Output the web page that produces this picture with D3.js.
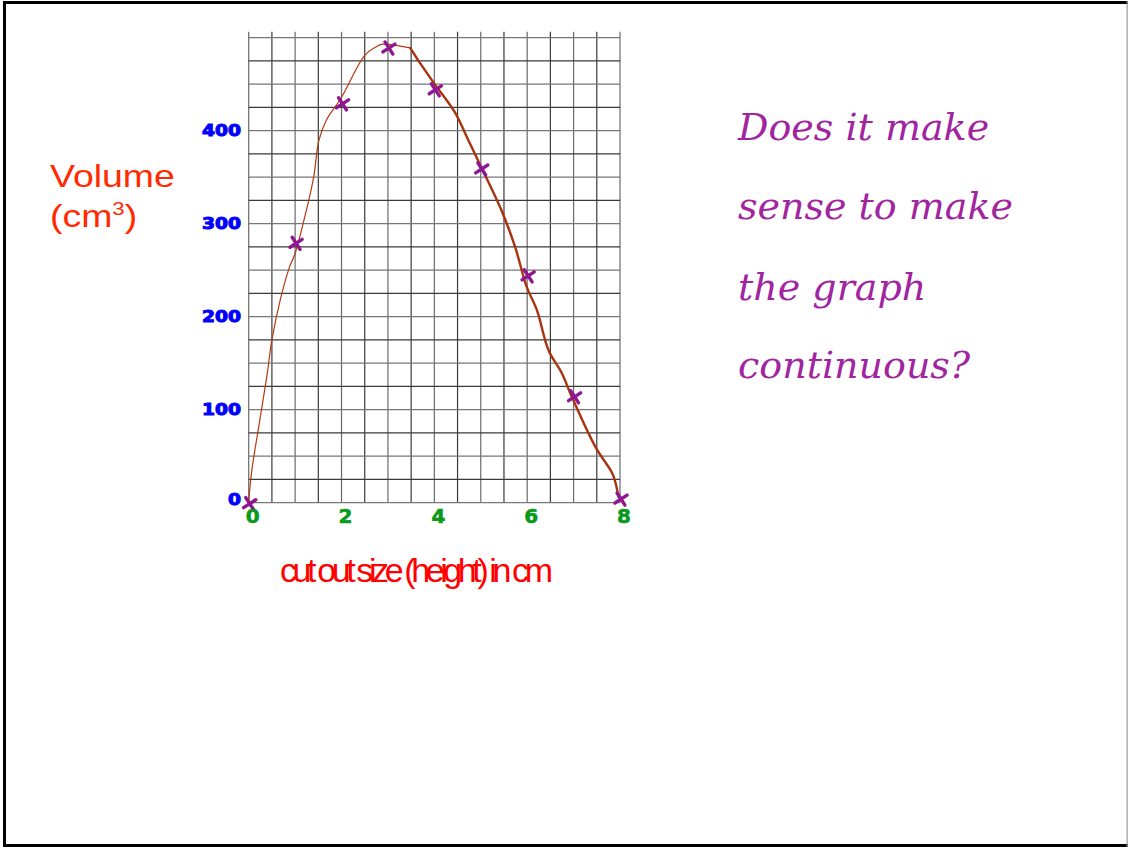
<!DOCTYPE html>
<html>
<head>
<meta charset="utf-8">
<script src="https://cdn.jsdelivr.net/npm/d3@7"></script>
<style>
  html, body { margin: 0; padding: 0; background: #fff; }
  svg { display: block; }
</style>
</head>
<body>
<svg id="chart" width="1128" height="847"></svg>
<script>
// Measured points: cut-out size (cm) vs volume (cm³)
const sizes   = [0, 1, 2, 3, 4, 5, 6, 7, 8];
const volumes = [0, 280, 430, 490, 445, 360, 245, 115, 5];

// Hand-drawn curve of best fit, rising part (thin stroke)
const curveRiseX = [0, 0.06, 0.24, 0.4, 0.5, 0.68, 0.87, 1.0, 1.26, 1.4, 1.51, 1.67, 2.0, 2.5, 2.74, 2.88, 3.48];
const curveRiseY = [0, 32, 89, 139, 175, 218, 252, 268, 318, 350, 389, 411, 436, 481, 490, 493, 489];
// Falling part (thicker stroke)
const curveFallX = [3.48, 3.66, 3.98, 4.44, 4.73, 4.98, 5.45, 5.74, 5.99, 6.21, 6.46, 6.75, 6.96, 7.47, 7.83, 7.9, 7.97];
const curveFallY = [489, 475, 452, 420, 390, 364, 314, 275, 232, 207, 164, 139, 114, 60, 32, 22, 6];

// Axis tick labels
const yTickValues = [0, 100, 200, 300, 400];
const yTickLabels = ["0", "100", "200", "300", "400"];
const xTickValues = [0, 2, 4, 6, 8];
const xTickLabels = ["0", "2", "4", "6", "8"];

const questionLines = ["Does it make", "sense to make", "the graph", "continuous?"];

const svg = d3.select("#chart");

// Frame around the slide
svg.append("rect").attr("x", 3).attr("y", 1).attr("width", 3).attr("height", 846).attr("fill", "#000");
svg.append("rect").attr("x", 3).attr("y", 1).attr("width", 1125).attr("height", 3).attr("fill", "#000");
svg.append("rect").attr("x", 3).attr("y", 844).attr("width", 1125).attr("height", 3).attr("fill", "#000");
svg.append("rect").attr("x", 1126.5).attr("y", 1).attr("width", 1.2).attr("height", 846).attr("fill", "#999");

const x = d3.scaleLinear().domain([0, 8]).range([248.7, 620]);
const y = d3.scaleLinear().domain([0, 500]).range([502.7, 37.7]);

// Graph paper grid
const grid = svg.append("g").attr("stroke-width", 1.2);
grid.selectAll("line.v").data(d3.range(0, 8.01, 0.5)).join("line")
  .attr("class", "v")
  .attr("x1", d => x(d)).attr("x2", d => x(d))
  .attr("y1", y(500) - 6).attr("y2", y(0))
  .attr("stroke", (d, i) => i % 2 ? "#3a3a3a" : "#6a6a6a");
grid.selectAll("line.h").data(d3.range(0, 500.1, 25)).join("line")
  .attr("class", "h")
  .attr("x1", x(0)).attr("x2", x(8))
  .attr("y1", d => y(d)).attr("y2", d => y(d))
  .attr("stroke", (d, i) => i % 2 ? "#3a3a3a" : "#777");

// Curve through the points
const line = d3.line().x(d => x(d[0])).y(d => y(d[1])).curve(d3.curveCatmullRom.alpha(0.5));
const rise = d3.zip(curveRiseX, curveRiseY);
const fall = d3.zip(curveFallX, curveFallY);
svg.append("path").attr("d", line(rise)).attr("fill", "none")
  .attr("stroke", "#b43a12").attr("stroke-width", 1.2).attr("stroke-linecap", "round");
svg.append("path").attr("d", line(fall)).attr("fill", "none")
  .attr("stroke", "#a8330e").attr("stroke-width", 2.4).attr("stroke-linecap", "round");

// Crosses marking the measured points
const cross = d3.symbol().type(d3.symbolX).size(70);
svg.append("g").selectAll("path").data(d3.zip(sizes, volumes)).join("path")
  .attr("d", cross)
  .attr("transform", d => `translate(${x(d[0]) + 1},${y(d[1]) + 1}) rotate(12)`)
  .attr("fill", "none").attr("stroke", "#8e1791").attr("stroke-width", 3.4).attr("stroke-linecap", "round");

// Y tick labels
svg.append("g").selectAll("text").data(d3.zip(yTickValues, yTickLabels)).join("text")
  .attr("x", 241).attr("y", d => y(d[0]) + (d[0] === 0 ? -3 : 0))
  .attr("text-anchor", "end").attr("dominant-baseline", "central")
  .attr("font-family", "DejaVu Sans").attr("font-weight", "bold").attr("font-size", 16)
  .attr("fill", "#0000ff").attr("stroke", "#0000ff").attr("stroke-width", 1)
  .attr("textLength", d => d[1].length * 13).attr("lengthAdjust", "spacingAndGlyphs")
  .text(d => d[1]);

// X tick labels
svg.append("g").selectAll("text").data(d3.zip(xTickValues, xTickLabels)).join("text")
  .attr("x", d => x(d[0]) + 4).attr("y", 516)
  .attr("text-anchor", "middle").attr("dominant-baseline", "central")
  .attr("font-family", "DejaVu Sans").attr("font-weight", "bold").attr("font-size", 20)
  .attr("fill", "#079a1c").attr("stroke", "#079a1c").attr("stroke-width", 0.6)
  .text(d => d[1]);

// Axis titles
const yTitle = svg.append("g").attr("transform", "translate(50,0) scale(1.17,1)")
  .attr("font-family", "Liberation Sans, Arial, sans-serif").attr("font-size", 32).attr("fill", "#ff2a00");
yTitle.append("text").attr("x", 0).attr("y", 187).text("Volume");
const cm = yTitle.append("text").attr("x", 0).attr("y", 227);
cm.append("tspan").text("(cm");
cm.append("tspan").attr("font-size", 19).attr("dy", -12).text("3");
cm.append("tspan").attr("dy", 12).text(")");

svg.append("text").attr("x", 280).attr("y", 582)
  .attr("font-family", "Liberation Sans, Arial, sans-serif").attr("font-size", 34).attr("fill", "#ff0000")
  .attr("textLength", 273).attr("lengthAdjust", "spacing")
  .text("cut out size (height) in cm");

// Question beside the graph
svg.append("g").selectAll("text").data(questionLines).join("text")
  .attr("x", 738).attr("y", (d, i) => [140, 219, 300, 378][i])
  .attr("font-family", "DejaVu Serif").attr("font-style", "italic").attr("font-size", 38)
  .attr("fill", "#a0259f")
  .text(d => d);
</script>
</body>
</html>
